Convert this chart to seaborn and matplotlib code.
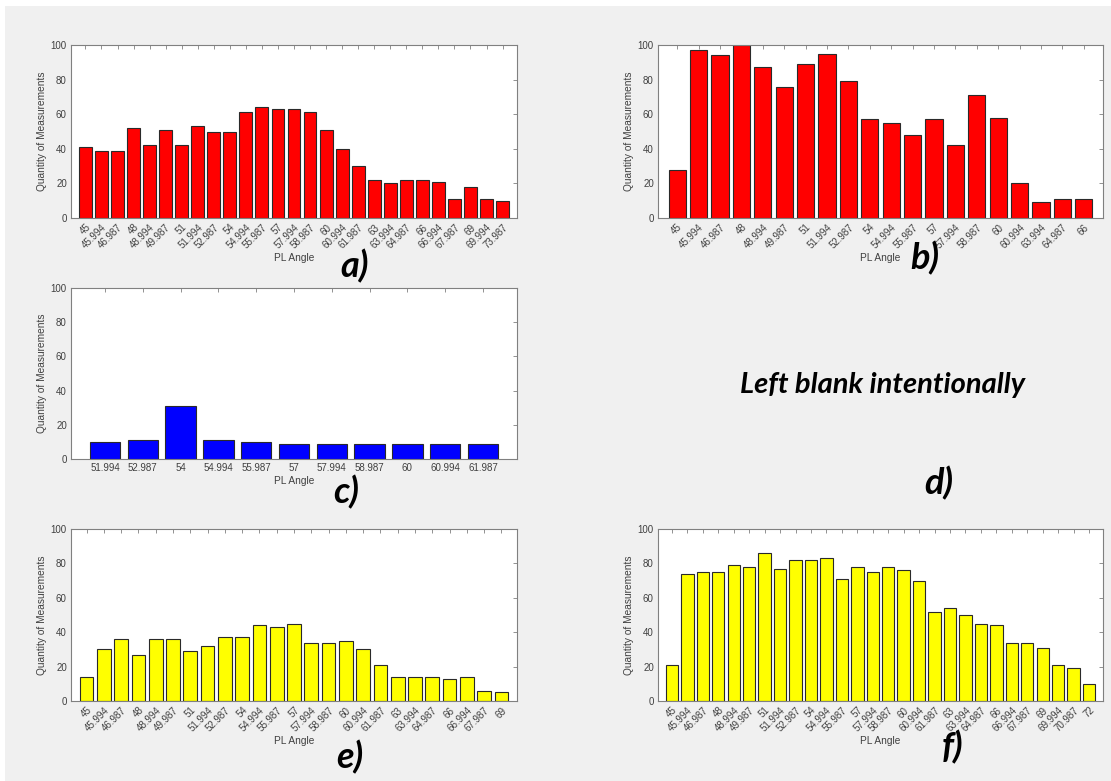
import matplotlib
matplotlib.use("Agg")
import matplotlib.pyplot as plt
from matplotlib.patches import Rectangle
import seaborn as sns
import pandas as pd

# PL angle categories and measurement counts for each panel
angles_a = ["45", "45.994", "46.987", "48", "48.994", "49.987", "51", "51.994", "52.987",
            "54", "54.994", "55.987", "57", "57.994", "58.987", "60", "60.994", "61.987",
            "63", "63.994", "64.987", "66", "66.994", "67.987", "69", "69.994", "73.987"]
counts_a = [41, 39, 39, 52, 42, 51, 42, 53, 50, 50, 61, 64, 63, 63, 61, 51, 40, 30,
            22, 20, 22, 22, 21, 11, 18, 11, 10]

angles_b = ["45", "45.994", "46.987", "48", "48.994", "49.987", "51", "51.994", "52.987",
            "54", "54.994", "55.987", "57", "57.994", "58.987", "60", "60.994", "63.994",
            "64.987", "66"]
counts_b = [28, 97, 94, 100, 87, 76, 89, 95, 79, 57, 55, 48, 57, 42, 71, 58, 20, 9, 11, 11]

angles_c = ["51.994", "52.987", "54", "54.994", "55.987", "57", "57.994", "58.987",
            "60", "60.994", "61.987"]
counts_c = [10, 11, 31, 11, 10, 9, 9, 9, 9, 9, 9]

angles_e = ["45", "45.994", "46.987", "48", "48.994", "49.987", "51", "51.994", "52.987",
            "54", "54.994", "55.987", "57", "57.994", "58.987", "60", "60.994", "61.987",
            "63", "63.994", "64.987", "66", "66.994", "67.987", "69"]
counts_e = [14, 30, 36, 27, 36, 36, 29, 32, 37, 37, 44, 43, 45, 34, 34, 35, 30, 21,
            14, 14, 14, 13, 14, 6, 5]

angles_f = ["45", "45.994", "46.987", "48", "48.994", "49.987", "51", "51.994", "52.987",
            "54", "54.994", "55.987", "57", "57.994", "58.987", "60", "60.994", "61.987",
            "63", "63.994", "64.987", "66", "66.994", "67.987", "69", "69.994", "70.987", "72"]
counts_f = [21, 74, 75, 75, 79, 78, 86, 77, 82, 82, 83, 71, 78, 75, 78, 76, 70, 52,
            54, 50, 45, 44, 34, 34, 31, 21, 19, 10]

panel_tags = ["a)", "b)", "c)", "d)", "e)", "f)"]
blank_note = "Left blank intentionally"

sns.set_style("white")
plt.rcParams["font.family"] = ["Liberation Sans", "DejaVu Sans"]

W, H = 1111, 781
fig = plt.figure(figsize=(W / 100, H / 100), dpi=100, facecolor="white")
# grey canvas with a thin white margin on the top and left
fig.patches.append(Rectangle((5 / W, 0), 1, 1 - 6 / H, transform=fig.transFigure,
                             facecolor="#f0f0f0", edgecolor="none", zorder=-10))

TEXT = "#404040"
SPINE = "#808080"


def px_axes(left, top, right, bottom):
    return fig.add_axes([left / W, 1 - bottom / H, (right - left) / W, (bottom - top) / H])


def draw_panel(ax, cats, vals, color, rotate=True):
    df = pd.DataFrame({"angle": cats, "count": vals})
    sns.barplot(data=df, x="angle", y="count", order=cats, color=color, saturation=1,
                width=0.8, edgecolor="#2a2a2a", linewidth=0.8, ax=ax)
    n = len(cats)
    ax.set_xlim(-0.9, n - 0.1)
    ax.set_ylim(0, 100)
    ax.set_yticks([0, 20, 40, 60, 80, 100])
    ax.set_facecolor("white")
    for s in ax.spines.values():
        s.set_visible(True)
        s.set_color(SPINE)
        s.set_linewidth(0.8)
    ax.tick_params(direction="in", length=3, width=0.6, color=SPINE, top=True, right=True,
                   labelsize=7, labelcolor=TEXT, pad=3)
    if rotate:
        ax.set_xticks(range(n))
        ax.set_xticklabels(cats, rotation=45, ha="right", rotation_mode="anchor")
    ax.set_xlabel("PL Angle", fontsize=7.3, color=TEXT, labelpad=2)
    ax.set_ylabel("Quantity of Measurements", fontsize=7.3, color=TEXT, labelpad=3)


ax_a = px_axes(71, 45, 517, 218)
draw_panel(ax_a, angles_a, counts_a, "#ff0000")
ax_b = px_axes(658, 45, 1103, 218)
draw_panel(ax_b, angles_b, counts_b, "#ff0000")
ax_c = px_axes(71, 288, 517, 459)
draw_panel(ax_c, angles_c, counts_c, "#0000ff", rotate=False)
ax_e = px_axes(71, 529, 517, 701)
draw_panel(ax_e, angles_e, counts_e, "#ffff00")
ax_f = px_axes(658, 529, 1103, 701)
draw_panel(ax_f, angles_f, counts_f, "#ffff00")

tag_font = dict(family=["Lato", "DejaVu Sans"], fontweight="bold", fontstyle="italic",
                color="black", ha="center", va="center")
tag_pos = [(355, 266), (925, 258), (346, 492), (939, 483), (350, 757), (952, 747)]
for tag, (x, y) in zip(panel_tags, tag_pos):
    fig.text(x / W, 1 - y / H, tag, fontsize=26, **tag_font)

fig.text(883 / W, 1 - 385 / H, blank_note, fontsize=21, **tag_font)

fig.savefig("out.png", dpi=100, facecolor=fig.get_facecolor())
